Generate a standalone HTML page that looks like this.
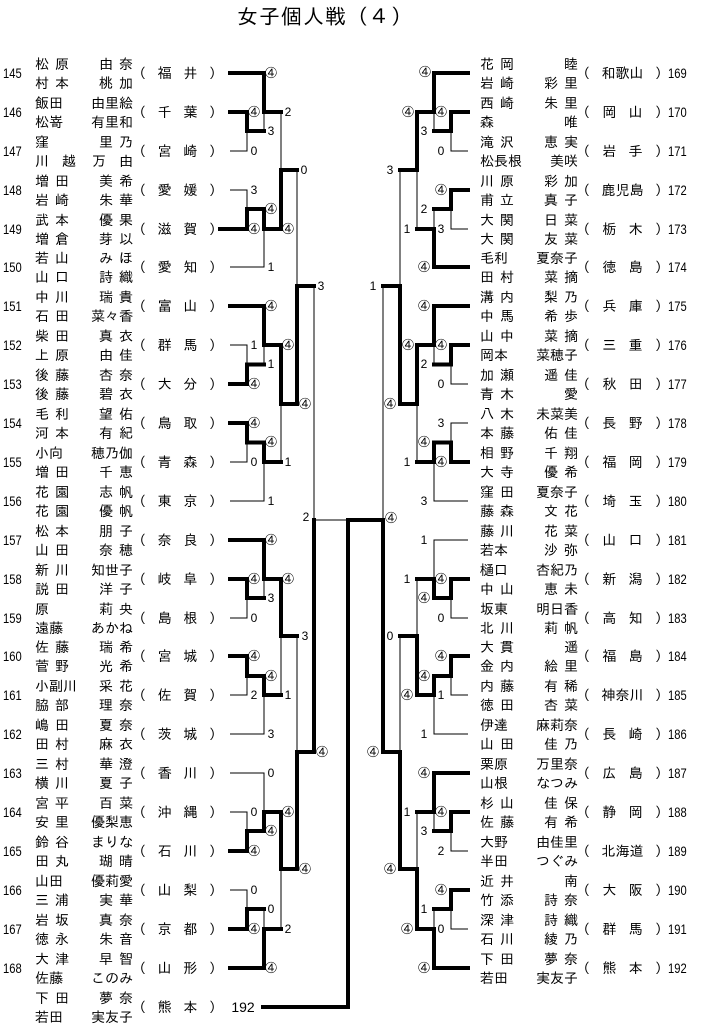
<!DOCTYPE html>
<html><head><meta charset="utf-8"><style>
body{margin:0;width:703px;height:1026px;position:relative;background:#fff;overflow:hidden;font-family:"Liberation Sans","IPAGothic","Noto Sans CJK JP",sans-serif;color:#000}
svg{position:absolute;left:0;top:0}
.t{fill:none;stroke:#000;stroke-width:1}
.k{fill:none;stroke:#000;stroke-width:4;stroke-linejoin:miter;stroke-linecap:square}
text{font-family:"Liberation Sans","IPAGothic",sans-serif;font-size:12px;text-anchor:middle;dominant-baseline:central}
.E{position:absolute;height:38px;width:350px}
.L{left:0}.R{left:478px}
.num{position:absolute;top:10px;font-size:14px;transform:scaleX(.8);transform-origin:left}
.L .num{left:3px}.R .num{left:190px}
.nm{position:absolute;top:0;width:98px;font-family:"IPAGothic","Noto Sans CJK JP",sans-serif;font-size:14px}
.L .nm{left:35px}.R .nm{left:2px}
.ln{display:flex;justify-content:space-between;height:19px;line-height:19px;white-space:nowrap}
.w{letter-spacing:6px}.gw{letter-spacing:6px;margin-right:-6px}
.pf{position:absolute;top:9px;width:77px;display:flex;justify-content:space-between;font-family:"IPAGothic","Noto Sans CJK JP",sans-serif;font-size:14px;line-height:19px}
.L .pf{left:139px}.R .pf{left:105px;width:79px}
h1{position:absolute;left:237px;top:6px;margin:0;font-weight:normal;font-size:21px;font-family:"IPAGothic","Noto Sans CJK JP",sans-serif;letter-spacing:1px}
</style></head><body>
<h1>女子個人戦（４）</h1>
<svg width="703" height="1026" viewBox="0 0 703 1026">
<path class="t" d="M230 151H247V131 M264 131V112 M281 112V170 M230 190H247V209 M230 267H264V229 M297 170V286
M230 345H247V364.5 M264 364.5V345 M230 462H247V442.5 M230 501H264V462 M281 462V404
M314 286V520 M314 520H348
M264 598V579 M230 618H247V598 M230 695H247V676 M230 734H264V695 M281 695V636 M297 636V752
M230 773H264V812 M230 812H247V831 M230 890H247V909 M264 909V929 M281 929V869"/>
<path class="k" d="M230 73H264V112H281 M230 112H247V131H264 M220 229H247V209H264V229H281V170H297
M230 306H264V345H281V404H297V286H314 M230 384H247V364.5H264 M230 423H247V442.5H264V462H281
M230 540H264V579H281V636H297 M230 579H247V598H264 M230 656H247V676H264V695H281
M230 851H247V831H264V812H281V869H297V752H314V520 M230 929H247V909H264 M230 968H264V929H281
M383 520H348V1007H263"/>
<path class="t" d="M468 151H451V131 M434 131V112 M468 229H451V209 M434 209V229 M417 229V170 M400 170V286 M383 286V520
M468 384H451V364.5 M434 364.5V345 M468 423H451V442.5 M468 501H434V462 M417 462V404
M468 540H434V579 M468 618H451V598 M417 579V636 M468 695H451V676 M468 734H434V695 M400 636V752
M434 831V812 M468 851H451V831 M417 812V869 M434 909V929 M468 929H451V909"/>
<path class="k" d="M468 73H434V112H417V170H400 M468 112H451V131H434 M468 190H451V209H434 M468 267H434V229H417
M468 306H434V345H417V404H400V286H383 M468 345H451V364.5H434 M468 462H451V442.5H434V462H417
M468 579H451V598H434V579H417 M468 656H451V676H434V695H417V636H400
M468 773H434V812H417 M468 812H451V831H434 M468 890H451V909H434
M468 968H434V929H417V869H400V752H383V520"/>
<text x="271" y="73">④</text><text x="254" y="112">④</text><text x="271" y="131">3</text><text x="254" y="151">0</text><text x="288" y="112">2</text>
<text x="254" y="190">3</text><text x="254" y="229">④</text><text x="271" y="209">④</text><text x="271" y="267">1</text><text x="288" y="229">④</text><text x="304" y="170">0</text>
<text x="271" y="306">④</text><text x="254" y="345">1</text><text x="254" y="384">④</text><text x="271" y="364">1</text><text x="288" y="345">④</text>
<text x="254" y="423">④</text><text x="254" y="462">0</text><text x="271" y="442">④</text><text x="271" y="501">1</text><text x="288" y="462">1</text><text x="305" y="404">④</text><text x="321" y="286">3</text>
<text x="271" y="540">④</text><text x="254" y="579">④</text><text x="271" y="598">3</text><text x="254" y="618">0</text><text x="288" y="579">④</text><text x="305" y="636">3</text>
<text x="254" y="656">④</text><text x="271" y="676">④</text><text x="254" y="695">2</text><text x="288" y="695">1</text><text x="271" y="734">3</text>
<text x="322" y="752">④</text><text x="306" y="517">2</text>
<text x="271" y="773">0</text><text x="254" y="812">0</text><text x="254" y="851">④</text><text x="271" y="831">④</text><text x="288" y="812">④</text><text x="305" y="869">④</text>
<text x="254" y="890">0</text><text x="254" y="929">④</text><text x="271" y="909">0</text><text x="271" y="968">④</text><text x="288" y="929">2</text>
<text x="425" y="72">④</text><text x="441" y="112">④</text><text x="424" y="131">3</text><text x="441" y="151">0</text><text x="408" y="112">④</text><text x="390" y="170">3</text>
<text x="441" y="190">④</text><text x="424" y="209">2</text><text x="441" y="229">3</text><text x="424" y="267">④</text><text x="407" y="229">1</text>
<text x="373" y="286">1</text>
<text x="424" y="306">④</text><text x="441" y="345">④</text><text x="424" y="364">2</text><text x="441" y="384">0</text><text x="408" y="345">④</text>
<text x="441" y="423">3</text><text x="441" y="462">④</text><text x="424" y="442">④</text><text x="407" y="462">1</text><text x="424" y="501">3</text><text x="390" y="404">④</text>
<text x="391" y="518">④</text>
<text x="424" y="540">1</text><text x="441" y="579">④</text><text x="424" y="598">④</text><text x="441" y="618">0</text><text x="407" y="579">1</text>
<text x="441" y="656">④</text><text x="424" y="676">④</text><text x="441" y="695">1</text><text x="424" y="734">1</text><text x="407" y="695">④</text><text x="390" y="636">0</text>
<text x="373" y="752">④</text>
<text x="424" y="773">④</text><text x="441" y="812">④</text><text x="424" y="831">3</text><text x="441" y="851">2</text><text x="407" y="812">1</text><text x="390" y="869">④</text>
<text x="441" y="890">④</text><text x="424" y="909">1</text><text x="441" y="929">0</text><text x="424" y="968">④</text><text x="407" y="929">④</text>
<text x="243" y="1007" style="font-size:14px">192</text>
</svg>

<div class="E L" style="top:55px"><span class="num">145</span><div class="nm"><div class="ln"><span class="w">松原</span><span class="gw">由奈</span></div><div class="ln"><span class="w">村本</span><span class="gw">桃加</span></div></div><div class="pf"><span>(</span><span>福</span><span>井</span><span>)</span></div></div>
<div class="E L" style="top:94px"><span class="num">146</span><div class="nm"><div class="ln"><span>飯田</span><span>由里絵</span></div><div class="ln"><span>松嵜</span><span>有里和</span></div></div><div class="pf"><span>(</span><span>千</span><span>葉</span><span>)</span></div></div>
<div class="E L" style="top:133px"><span class="num">147</span><div class="nm"><div class="ln"><span>窪</span><span class="gw">里乃</span></div><div class="ln"><span style="letter-spacing:13px">川越</span><span style="letter-spacing:13px;margin-right:-13px">万由</span></div></div><div class="pf"><span>(</span><span>宮</span><span>崎</span><span>)</span></div></div>
<div class="E L" style="top:172px"><span class="num">148</span><div class="nm"><div class="ln"><span class="w">増田</span><span class="gw">美希</span></div><div class="ln"><span class="w">岩崎</span><span class="gw">朱華</span></div></div><div class="pf"><span>(</span><span>愛</span><span>媛</span><span>)</span></div></div>
<div class="E L" style="top:211px"><span class="num">149</span><div class="nm"><div class="ln"><span class="w">武本</span><span class="gw">優果</span></div><div class="ln"><span class="w">増倉</span><span class="gw">芽以</span></div></div><div class="pf"><span>(</span><span>滋</span><span>賀</span><span>)</span></div></div>
<div class="E L" style="top:249px"><span class="num">150</span><div class="nm"><div class="ln"><span class="w">若山</span><span class="gw">みほ</span></div><div class="ln"><span class="w">山口</span><span class="gw">詩織</span></div></div><div class="pf"><span>(</span><span>愛</span><span>知</span><span>)</span></div></div>
<div class="E L" style="top:288px"><span class="num">151</span><div class="nm"><div class="ln"><span class="w">中川</span><span class="gw">瑞貴</span></div><div class="ln"><span class="w">石田</span><span>菜々香</span></div></div><div class="pf"><span>(</span><span>富</span><span>山</span><span>)</span></div></div>
<div class="E L" style="top:327px"><span class="num">152</span><div class="nm"><div class="ln"><span class="w">柴田</span><span class="gw">真衣</span></div><div class="ln"><span class="w">上原</span><span class="gw">由佳</span></div></div><div class="pf"><span>(</span><span>群</span><span>馬</span><span>)</span></div></div>
<div class="E L" style="top:366px"><span class="num">153</span><div class="nm"><div class="ln"><span class="w">後藤</span><span class="gw">杏奈</span></div><div class="ln"><span class="w">後藤</span><span class="gw">碧衣</span></div></div><div class="pf"><span>(</span><span>大</span><span>分</span><span>)</span></div></div>
<div class="E L" style="top:405px"><span class="num">154</span><div class="nm"><div class="ln"><span class="w">毛利</span><span class="gw">望佑</span></div><div class="ln"><span class="w">河本</span><span class="gw">有紀</span></div></div><div class="pf"><span>(</span><span>鳥</span><span>取</span><span>)</span></div></div>
<div class="E L" style="top:444px"><span class="num">155</span><div class="nm"><div class="ln"><span>小向</span><span>穂乃伽</span></div><div class="ln"><span class="w">増田</span><span class="gw">千恵</span></div></div><div class="pf"><span>(</span><span>青</span><span>森</span><span>)</span></div></div>
<div class="E L" style="top:483px"><span class="num">156</span><div class="nm"><div class="ln"><span class="w">花園</span><span class="gw">志帆</span></div><div class="ln"><span class="w">花園</span><span class="gw">優帆</span></div></div><div class="pf"><span>(</span><span>東</span><span>京</span><span>)</span></div></div>
<div class="E L" style="top:522px"><span class="num">157</span><div class="nm"><div class="ln"><span class="w">松本</span><span class="gw">朋子</span></div><div class="ln"><span class="w">山田</span><span class="gw">奈穂</span></div></div><div class="pf"><span>(</span><span>奈</span><span>良</span><span>)</span></div></div>
<div class="E L" style="top:561px"><span class="num">158</span><div class="nm"><div class="ln"><span class="w">新川</span><span>知世子</span></div><div class="ln"><span class="w">説田</span><span class="gw">洋子</span></div></div><div class="pf"><span>(</span><span>岐</span><span>阜</span><span>)</span></div></div>
<div class="E L" style="top:600px"><span class="num">159</span><div class="nm"><div class="ln"><span>原</span><span class="gw">莉央</span></div><div class="ln"><span>遠藤</span><span>あかね</span></div></div><div class="pf"><span>(</span><span>島</span><span>根</span><span>)</span></div></div>
<div class="E L" style="top:638px"><span class="num">160</span><div class="nm"><div class="ln"><span class="w">佐藤</span><span class="gw">瑞希</span></div><div class="ln"><span class="w">菅野</span><span class="gw">光希</span></div></div><div class="pf"><span>(</span><span>宮</span><span>城</span><span>)</span></div></div>
<div class="E L" style="top:677px"><span class="num">161</span><div class="nm"><div class="ln"><span>小副川</span><span class="gw">采花</span></div><div class="ln"><span class="w">脇部</span><span class="gw">理奈</span></div></div><div class="pf"><span>(</span><span>佐</span><span>賀</span><span>)</span></div></div>
<div class="E L" style="top:716px"><span class="num">162</span><div class="nm"><div class="ln"><span class="w">嶋田</span><span class="gw">夏奈</span></div><div class="ln"><span class="w">田村</span><span class="gw">麻衣</span></div></div><div class="pf"><span>(</span><span>茨</span><span>城</span><span>)</span></div></div>
<div class="E L" style="top:755px"><span class="num">163</span><div class="nm"><div class="ln"><span class="w">三村</span><span class="gw">華澄</span></div><div class="ln"><span class="w">横川</span><span class="gw">夏子</span></div></div><div class="pf"><span>(</span><span>香</span><span>川</span><span>)</span></div></div>
<div class="E L" style="top:794px"><span class="num">164</span><div class="nm"><div class="ln"><span class="w">宮平</span><span class="gw">百菜</span></div><div class="ln"><span class="w">安里</span><span>優梨恵</span></div></div><div class="pf"><span>(</span><span>沖</span><span>縄</span><span>)</span></div></div>
<div class="E L" style="top:833px"><span class="num">165</span><div class="nm"><div class="ln"><span class="w">鈴谷</span><span>まりな</span></div><div class="ln"><span class="w">田丸</span><span class="gw">瑚晴</span></div></div><div class="pf"><span>(</span><span>石</span><span>川</span><span>)</span></div></div>
<div class="E L" style="top:872px"><span class="num">166</span><div class="nm"><div class="ln"><span>山田</span><span>優莉愛</span></div><div class="ln"><span class="w">三浦</span><span class="gw">実華</span></div></div><div class="pf"><span>(</span><span>山</span><span>梨</span><span>)</span></div></div>
<div class="E L" style="top:911px"><span class="num">167</span><div class="nm"><div class="ln"><span class="w">岩坂</span><span class="gw">真奈</span></div><div class="ln"><span class="w">徳永</span><span class="gw">朱音</span></div></div><div class="pf"><span>(</span><span>京</span><span>都</span><span>)</span></div></div>
<div class="E L" style="top:950px"><span class="num">168</span><div class="nm"><div class="ln"><span class="w">大津</span><span class="gw">早智</span></div><div class="ln"><span>佐藤</span><span>このみ</span></div></div><div class="pf"><span>(</span><span>山</span><span>形</span><span>)</span></div></div>
<div class="E L" style="top:989px"><div class="nm"><div class="ln"><span class="w">下田</span><span class="gw">夢奈</span></div><div class="ln"><span>若田</span><span>実友子</span></div></div><div class="pf"><span>(</span><span>熊</span><span>本</span><span>)</span></div></div>

<div class="E R" style="top:55px"><div class="nm"><div class="ln"><span class="w">花岡</span><span>睦</span></div><div class="ln"><span class="w">岩崎</span><span class="gw">彩里</span></div></div><div class="pf"><span>(</span><span>和歌山</span><span>)</span></div><span class="num">169</span></div>
<div class="E R" style="top:94px"><div class="nm"><div class="ln"><span class="w">西崎</span><span class="gw">朱里</span></div><div class="ln"><span>森</span><span>唯</span></div></div><div class="pf"><span>(</span><span>岡</span><span>山</span><span>)</span></div><span class="num">170</span></div>
<div class="E R" style="top:133px"><div class="nm"><div class="ln"><span class="w">滝沢</span><span class="gw">恵実</span></div><div class="ln"><span>松長根</span><span>美咲</span></div></div><div class="pf"><span>(</span><span>岩</span><span>手</span><span>)</span></div><span class="num">171</span></div>
<div class="E R" style="top:172px"><div class="nm"><div class="ln"><span class="w">川原</span><span class="gw">彩加</span></div><div class="ln"><span class="w">甫立</span><span class="gw">真子</span></div></div><div class="pf"><span>(</span><span>鹿児島</span><span>)</span></div><span class="num">172</span></div>
<div class="E R" style="top:211px"><div class="nm"><div class="ln"><span class="w">大関</span><span class="gw">日菜</span></div><div class="ln"><span class="w">大関</span><span class="gw">友菜</span></div></div><div class="pf"><span>(</span><span>栃</span><span>木</span><span>)</span></div><span class="num">173</span></div>
<div class="E R" style="top:249px"><div class="nm"><div class="ln"><span>毛利</span><span>夏奈子</span></div><div class="ln"><span class="w">田村</span><span class="gw">菜摘</span></div></div><div class="pf"><span>(</span><span>徳</span><span>島</span><span>)</span></div><span class="num">174</span></div>
<div class="E R" style="top:288px"><div class="nm"><div class="ln"><span class="w">溝内</span><span class="gw">梨乃</span></div><div class="ln"><span class="w">中馬</span><span class="gw">希歩</span></div></div><div class="pf"><span>(</span><span>兵</span><span>庫</span><span>)</span></div><span class="num">175</span></div>
<div class="E R" style="top:327px"><div class="nm"><div class="ln"><span class="w">山中</span><span class="gw">菜摘</span></div><div class="ln"><span>岡本</span><span>菜穂子</span></div></div><div class="pf"><span>(</span><span>三</span><span>重</span><span>)</span></div><span class="num">176</span></div>
<div class="E R" style="top:366px"><div class="nm"><div class="ln"><span class="w">加瀬</span><span class="gw">遥佳</span></div><div class="ln"><span class="w">青木</span><span>愛</span></div></div><div class="pf"><span>(</span><span>秋</span><span>田</span><span>)</span></div><span class="num">177</span></div>
<div class="E R" style="top:405px"><div class="nm"><div class="ln"><span class="w">八木</span><span>未菜美</span></div><div class="ln"><span class="w">本藤</span><span class="gw">佑佳</span></div></div><div class="pf"><span>(</span><span>長</span><span>野</span><span>)</span></div><span class="num">178</span></div>
<div class="E R" style="top:444px"><div class="nm"><div class="ln"><span class="w">相野</span><span class="gw">千翔</span></div><div class="ln"><span class="w">大寺</span><span class="gw">優希</span></div></div><div class="pf"><span>(</span><span>福</span><span>岡</span><span>)</span></div><span class="num">179</span></div>
<div class="E R" style="top:483px"><div class="nm"><div class="ln"><span class="w">窪田</span><span>夏奈子</span></div><div class="ln"><span class="w">藤森</span><span class="gw">文花</span></div></div><div class="pf"><span>(</span><span>埼</span><span>玉</span><span>)</span></div><span class="num">180</span></div>
<div class="E R" style="top:522px"><div class="nm"><div class="ln"><span class="w">藤川</span><span class="gw">花菜</span></div><div class="ln"><span>若本</span><span class="gw">沙弥</span></div></div><div class="pf"><span>(</span><span>山</span><span>口</span><span>)</span></div><span class="num">181</span></div>
<div class="E R" style="top:561px"><div class="nm"><div class="ln"><span>樋口</span><span>杏紀乃</span></div><div class="ln"><span class="w">中山</span><span class="gw">恵未</span></div></div><div class="pf"><span>(</span><span>新</span><span>潟</span><span>)</span></div><span class="num">182</span></div>
<div class="E R" style="top:600px"><div class="nm"><div class="ln"><span>坂東</span><span>明日香</span></div><div class="ln"><span class="w">北川</span><span class="gw">莉帆</span></div></div><div class="pf"><span>(</span><span>高</span><span>知</span><span>)</span></div><span class="num">183</span></div>
<div class="E R" style="top:638px"><div class="nm"><div class="ln"><span class="w">大貫</span><span>遥</span></div><div class="ln"><span class="w">金内</span><span class="gw">絵里</span></div></div><div class="pf"><span>(</span><span>福</span><span>島</span><span>)</span></div><span class="num">184</span></div>
<div class="E R" style="top:677px"><div class="nm"><div class="ln"><span class="w">内藤</span><span class="gw">有稀</span></div><div class="ln"><span class="w">徳田</span><span class="gw">杏菜</span></div></div><div class="pf"><span>(</span><span>神奈川</span><span>)</span></div><span class="num">185</span></div>
<div class="E R" style="top:716px"><div class="nm"><div class="ln"><span>伊達</span><span>麻莉奈</span></div><div class="ln"><span class="w">山田</span><span class="gw">佳乃</span></div></div><div class="pf"><span>(</span><span>長</span><span>崎</span><span>)</span></div><span class="num">186</span></div>
<div class="E R" style="top:755px"><div class="nm"><div class="ln"><span>栗原</span><span>万里奈</span></div><div class="ln"><span>山根</span><span>なつみ</span></div></div><div class="pf"><span>(</span><span>広</span><span>島</span><span>)</span></div><span class="num">187</span></div>
<div class="E R" style="top:794px"><div class="nm"><div class="ln"><span class="w">杉山</span><span class="gw">佳保</span></div><div class="ln"><span class="w">佐藤</span><span class="gw">有希</span></div></div><div class="pf"><span>(</span><span>静</span><span>岡</span><span>)</span></div><span class="num">188</span></div>
<div class="E R" style="top:833px"><div class="nm"><div class="ln"><span>大野</span><span>由佳里</span></div><div class="ln"><span>半田</span><span>つぐみ</span></div></div><div class="pf"><span>(</span><span>北海道</span><span>)</span></div><span class="num">189</span></div>
<div class="E R" style="top:872px"><div class="nm"><div class="ln"><span class="w">近井</span><span>南</span></div><div class="ln"><span class="w">竹添</span><span class="gw">詩奈</span></div></div><div class="pf"><span>(</span><span>大</span><span>阪</span><span>)</span></div><span class="num">190</span></div>
<div class="E R" style="top:911px"><div class="nm"><div class="ln"><span class="w">深津</span><span class="gw">詩織</span></div><div class="ln"><span class="w">石川</span><span class="gw">綾乃</span></div></div><div class="pf"><span>(</span><span>群</span><span>馬</span><span>)</span></div><span class="num">191</span></div>
<div class="E R" style="top:950px"><div class="nm"><div class="ln"><span class="w">下田</span><span class="gw">夢奈</span></div><div class="ln"><span>若田</span><span>実友子</span></div></div><div class="pf"><span>(</span><span>熊</span><span>本</span><span>)</span></div><span class="num">192</span></div>
</body></html>
